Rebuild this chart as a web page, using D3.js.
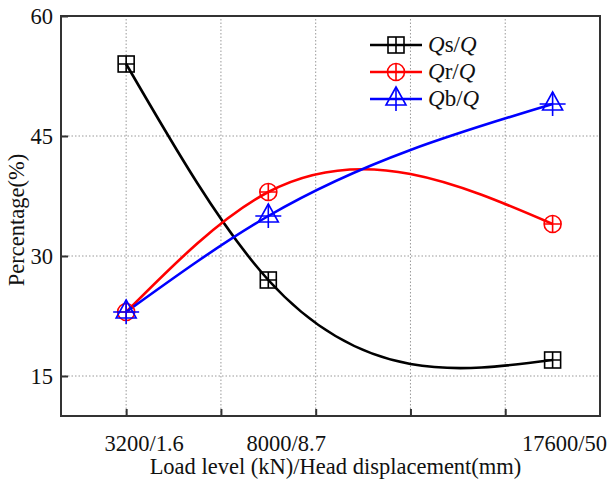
<!DOCTYPE html>
<html>
<head>
<meta charset="utf-8">
<script src="https://cdn.jsdelivr.net/npm/d3@7"></script>
<style>
  body { margin: 0; background: #fff; }
  svg { display: block; font-family: "Liberation Serif", "Times New Roman", serif; }
</style>
</head>
<body>
<svg id="chart"></svg>
<script>
// load level (kN) for each stage, with its label
const loads = [3200, 8000, 17600]
const loadLabels = ['3200/1.6', '8000/8.7', '17600/50']
const gridLoads = [3200, 6400, 9600, 12800, 16000]
const yTicks = [15, 30, 45, 60]

// percentages
const qs = [54, 27, 17]
const qr = [23, 38, 34]
const qb = [23, 35, 49]

const series = [
  { key: 's', values: qs, color: '#000000', marker: 'square' },
  { key: 'r', values: qr, color: '#ff0000', marker: 'circle' },
  { key: 'b', values: qb, color: '#0000ff', marker: 'triangle' }
]

const width = 614, height = 481
const margin = { top: 16, right: 14, bottom: 65, left: 61 }
const fontSize = 22.5

const svg = d3.select('#chart').attr('width', width).attr('height', height)

const x = d3.scaleLinear().domain([1000, 19200]).range([margin.left, width - margin.right])
const y = d3.scaleLinear().domain([10, 60]).range([height - margin.bottom, margin.top])

// natural cubic spline in x, drawn as bezier segments
class NaturalX {
  constructor (context) { this._context = context }
  areaStart () {}
  areaEnd () {}
  lineStart () { this._x = []; this._y = [] }
  point (px, py) { this._x.push(+px); this._y.push(+py) }
  lineEnd () {
    const xs = this._x, ys = this._y, n = xs.length
    const ctx = this._context
    if (!n) return
    ctx.moveTo(xs[0], ys[0])
    if (n < 2) return
    const h = [], d = []
    for (let i = 0; i < n - 1; i++) {
      h.push(xs[i + 1] - xs[i])
      d.push((ys[i + 1] - ys[i]) / h[i])
    }
    const a = new Array(n).fill(0), b = new Array(n).fill(0)
    const c = new Array(n).fill(0), r = new Array(n).fill(0)
    b[0] = 2; c[0] = 1; r[0] = 3 * d[0]
    for (let i = 1; i < n - 1; i++) {
      a[i] = h[i]
      b[i] = 2 * (h[i - 1] + h[i])
      c[i] = h[i - 1]
      r[i] = 3 * (h[i] * d[i - 1] + h[i - 1] * d[i])
    }
    a[n - 1] = 1; b[n - 1] = 2; r[n - 1] = 3 * d[n - 2]
    for (let i = 1; i < n; i++) {
      const w = a[i] / b[i - 1]
      b[i] -= w * c[i - 1]
      r[i] -= w * r[i - 1]
    }
    const m = new Array(n)
    m[n - 1] = r[n - 1] / b[n - 1]
    for (let i = n - 2; i >= 0; i--) m[i] = (r[i] - c[i] * m[i + 1]) / b[i]
    for (let i = 0; i < n - 1; i++) {
      const t = h[i] / 3
      ctx.bezierCurveTo(xs[i] + t, ys[i] + m[i] * t, xs[i + 1] - t, ys[i + 1] - m[i + 1] * t, xs[i + 1], ys[i + 1])
    }
  }
}
const curveNaturalX = ctx => new NaturalX(ctx)

// grid
const grid = svg.append('g').attr('stroke', '#999').attr('stroke-width', 1).attr('stroke-dasharray', '1.5,2')
grid.selectAll('.gx').data(gridLoads).enter().append('line')
  .attr('x1', d => x(d)).attr('x2', d => x(d))
  .attr('y1', y(10)).attr('y2', y(60))
grid.selectAll('.gy').data(yTicks.filter(v => v < 60)).enter().append('line')
  .attr('x1', x(1000)).attr('x2', x(19200))
  .attr('y1', d => y(d)).attr('y2', d => y(d))

// axes, ticks pointing inward
const xAxis = svg.append('g').attr('transform', `translate(0,${y(10)})`)
  .call(d3.axisBottom(x).tickValues(gridLoads).tickSize(-7).tickFormat(''))
const yAxis = svg.append('g').attr('transform', `translate(${x(1000)},0)`)
  .call(d3.axisLeft(y).tickValues(yTicks).tickSize(-7).tickPadding(8).tickFormat(d3.format('d')))
;[xAxis, yAxis].forEach(g => {
  g.select('.domain').remove()
  g.selectAll('.tick line').attr('stroke', '#333').attr('stroke-width', 2)
})
yAxis.selectAll('.tick text').attr('font-size', fontSize).attr('fill', '#111')
  .attr('font-family', '"Liberation Serif", serif')

// frame
svg.append('rect')
  .attr('x', x(1000)).attr('y', y(60))
  .attr('width', x(19200) - x(1000)).attr('height', y(10) - y(60))
  .attr('fill', 'none').attr('stroke', '#333').attr('stroke-width', 2)

// x labels at the load levels
svg.selectAll('.xl').data(loads).enter().append('text')
  .attr('x', (d, i) => i < 2 ? x(d) + 18 : width - 7)
  .attr('y', 451)
  .attr('text-anchor', (d, i) => i < 2 ? 'middle' : 'end')
  .attr('font-size', fontSize).attr('fill', '#111')
  .text((d, i) => loadLabels[i])

svg.append('text')
  .attr('x', (x(1000) + x(19200)) / 2 + 5).attr('y', 474)
  .attr('text-anchor', 'middle').attr('font-size', fontSize).attr('fill', '#111')
  .text('Load level (kN)/Head displacement(mm)')

svg.append('text')
  .attr('transform', `translate(24,${(y(10) + y(60)) / 2 + 4}) rotate(-90)`)
  .attr('text-anchor', 'middle').attr('font-size', fontSize).attr('fill', '#111')
  .text('Percentage(%)')

// markers
function drawMarker (g, kind, color) {
  const p = g.append('g').attr('fill', 'none').attr('stroke', color).attr('stroke-width', 1.6)
  if (kind === 'square') {
    p.append('rect').attr('x', -8).attr('y', -8).attr('width', 16).attr('height', 16)
    p.append('path').attr('d', 'M-8,0H8M0,-8V8')
  } else if (kind === 'circle') {
    p.append('circle').attr('r', 8.5)
    p.append('path').attr('d', 'M-8.5,0H8.5M0,-8.5V8.5')
  } else {
    p.append('path').attr('d', 'M0,-12L10,6L-10,6Z')
    p.append('path').attr('d', 'M-13,0H13M0,-12V12')
  }
}

const line = d3.line().x((d, i) => x(loads[i])).y(d => y(d)).curve(curveNaturalX)

series.forEach(s => {
  svg.append('path').datum(s.values)
    .attr('d', line)
    .attr('fill', 'none').attr('stroke', s.color).attr('stroke-width', 2.6)
})
series.forEach(s => {
  s.values.forEach((v, i) => {
    const g = svg.append('g').attr('transform', `translate(${x(loads[i])},${y(v)})`)
    drawMarker(g, s.marker, s.color)
  })
})

// legend
const legend = svg.append('g').attr('transform', 'translate(370,45)')
series.forEach((s, i) => {
  const row = legend.append('g').attr('transform', `translate(0,${i * 27})`)
  row.append('line').attr('x1', 0).attr('x2', 52).attr('stroke', s.color).attr('stroke-width', 2.6)
  drawMarker(row.append('g').attr('transform', 'translate(26,0)'), s.marker, s.color)
  const t = row.append('text').attr('x', 58).attr('y', 7).attr('font-size', 23).attr('fill', '#111')
  t.append('tspan').attr('font-style', 'italic').text('Q')
  t.append('tspan').text(s.key + '/')
  t.append('tspan').attr('font-style', 'italic').text('Q')
})
</script>
</body>
</html>
